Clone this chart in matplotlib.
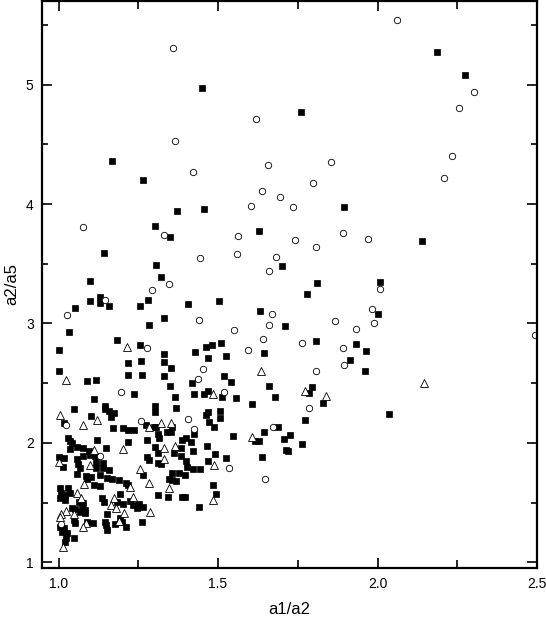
import matplotlib
matplotlib.use("Agg")
import matplotlib.pyplot as plt
from matplotlib.ticker import MultipleLocator

plt.rcParams['font.family'] = ['Liberation Sans', 'DejaVu Sans']

# filled squares
sq_x = [1.451, 1.166, 1.266, 1.372, 1.455, 1.302, 1.35, 1.629, 1.142, 1.306, 1.10, 1.32, 1.129,
        2.187, 2.274, 1.761, 1.896, 2.14, 1.699, 1.81, 1.78, 2.008,
        2.003, 1.711, 1.807, 1.934, 1.964, 1.914, 1.961, 1.794, 1.785, 1.829, 2.037, 1.680, 1.774,
        1.687, 1.707, 1.724, 1.762, 1.713, 1.719,
        1.129, 1.097, 1.159, 1.052, 1.256, 1.28, 1.283, 1.034, 1.183, 1.256, 1.0, 1.217, 1.259,
        1.001, 1.089, 1.116, 1.218, 1.26, 1.238, 1.111, 1.047, 1.146, 1.147, 1.157, 1.175, 1.165,
        1.302, 1.302, 1.018, 1.103, 1.275, 1.298, 1.172, 1.202, 1.219, 1.238,
        1.406, 1.503, 1.331, 1.632, 1.462, 1.48, 1.51, 1.644, 1.429, 1.33, 1.467, 1.526, 1.33,
        1.351, 1.329, 1.518, 1.541, 1.418, 1.349, 1.66, 1.364, 1.424, 1.457, 1.469, 1.512, 1.556,
        1.607, 1.369, 1.467, 1.463, 1.507, 1.505, 1.472, 1.357, 1.306, 1.486,
        1.030, 1.037, 1.043, 1.035, 1.122, 1.217, 1.278, 1.058, 1.078, 1.094, 1.149, 1.301, 1.078,
        1.099, 1.115, 1.0, 1.016, 1.014, 1.058, 1.061, 1.277, 1.284, 1.313, 1.118, 1.139, 1.068,
        1.118, 1.139, 1.157, 1.058, 1.086, 1.102, 1.131, 1.152, 1.167, 1.188, 1.266, 1.212, 1.218,
        1.11, 1.129, 1.089, 1.313, 1.005, 1.031, 1.008, 1.021, 1.037, 1.003, 1.021, 1.063, 1.076,
        1.136, 1.141, 1.193, 1.183, 1.201, 1.223, 1.233, 1.253, 1.266, 1.246, 1.042, 1.052, 1.073,
        1.068, 1.083, 1.084, 1.152, 1.191, 1.199, 1.261, 1.047, 1.05, 1.089, 1.108, 1.146, 1.149,
        1.178, 1.212, 1.152, 1.005, 1.016, 1.011, 1.026, 1.024, 1.047, 1.021,
        1.425, 1.547, 1.617, 1.627, 1.645, 1.341, 1.353, 1.313, 1.316, 1.387, 1.401, 1.414, 1.385,
        1.42, 1.465, 1.313, 1.362, 1.491, 1.525, 1.638, 1.385, 1.322, 1.399, 1.47, 1.404, 1.423,
        1.442, 1.355, 1.376, 1.397, 1.347, 1.357, 1.368, 1.485, 1.342, 1.387, 1.395, 1.494, 1.441]
sq_y = [4.97, 4.36, 4.20, 3.94, 3.96, 3.82, 3.72, 3.775, 3.59, 3.49, 3.356, 3.39, 3.22,
        5.27, 5.08, 4.77, 3.976, 3.69, 3.48, 3.34, 3.25, 3.35,
        3.08, 2.98, 2.856, 2.83, 2.77, 2.694, 2.60, 2.468, 2.415, 2.33, 2.242, 2.387, 2.189,
        2.136, 2.035, 2.066, 1.993, 1.94, 1.93,
        3.174, 3.19, 3.15, 3.13, 3.15, 3.197, 2.987, 2.93, 2.864, 2.82, 2.776, 2.67, 2.686,
        2.60, 2.516, 2.524, 2.566, 2.566, 2.407, 2.37, 2.28, 2.31, 2.28, 2.27, 2.248, 2.214,
        2.31, 2.26, 2.17, 2.228, 2.152, 2.136, 2.125, 2.125, 2.11, 2.11,
        3.163, 3.19, 3.046, 3.105, 2.80, 2.822, 2.837, 2.755, 2.759, 2.742, 2.714, 2.73, 2.675,
        2.627, 2.56, 2.563, 2.513, 2.50, 2.48, 2.48, 2.387, 2.407, 2.407, 2.437, 2.384, 2.373,
        2.326, 2.29, 2.256, 2.234, 2.267, 2.209, 2.175, 2.13, 2.136, 2.13,
        2.04, 2.016, 1.997, 1.949, 2.024, 2.01, 2.022, 1.963, 1.955, 1.932, 1.955, 1.963, 1.893,
        1.898, 1.89, 1.884, 1.871, 1.80, 1.863, 1.823, 1.884, 1.859, 1.829, 1.843, 1.834, 1.787,
        1.792, 1.787, 1.773, 1.737, 1.725, 1.717, 1.731, 1.704, 1.695, 1.689, 1.731, 1.662, 1.647,
        1.647, 1.642, 1.698, 1.564, 1.62, 1.62, 1.578, 1.564, 1.578, 1.536, 1.522, 1.508, 1.494,
        1.536, 1.508, 1.57, 1.508, 1.488, 1.513, 1.48, 1.488, 1.466, 1.457, 1.457, 1.444, 1.452,
        1.419, 1.41, 1.438, 1.402, 1.374, 1.34, 1.335, 1.354, 1.327, 1.335, 1.327, 1.34, 1.312,
        1.318, 1.298, 1.27, 1.298, 1.285, 1.256, 1.243, 1.20, 1.206, 1.168,
        2.072, 2.06, 2.018, 2.018, 2.094, 2.094, 2.089, 2.072, 2.038, 2.024, 2.038, 2.005, 1.955,
        1.935, 1.977, 1.918, 1.918, 1.905, 1.876, 1.884, 1.888, 1.821, 1.848, 1.851, 1.80, 1.779,
        1.781, 1.75, 1.75, 1.731, 1.698, 1.69, 1.681, 1.647, 1.55, 1.545, 1.55, 1.57, 1.463]

# open circles
ci_x = [1.359, 1.620, 1.364, 1.657, 1.42, 1.638, 1.603, 1.076, 1.332, 1.563, 1.442, 1.558, 1.661,
        1.346, 1.294, 1.145,
        2.061, 2.304, 2.256, 2.235, 1.854, 2.208, 1.798, 1.694, 1.736, 1.891, 1.969, 1.74, 1.807,
        1.681, 2.009,
        1.983, 1.868, 1.989, 1.933, 1.764, 1.891, 1.895, 1.808, 2.493, 1.785,
        1.025, 1.276, 1.197, 1.022, 1.258,
        1.439, 1.669, 1.661, 1.55, 1.642, 1.594, 1.454, 1.436, 1.52, 1.406, 1.424, 1.671,
        1.131, 1.008, 1.535, 1.646]
ci_y = [5.31, 4.715, 4.53, 4.33, 4.27, 4.107, 3.987, 3.806, 3.744, 3.735, 3.55, 3.585, 3.44,
        3.33, 3.28, 3.20,
        5.54, 4.94, 4.80, 4.40, 4.35, 4.22, 4.18, 4.06, 3.976, 3.755, 3.71, 3.70, 3.64,
        3.56, 3.29,
        3.12, 3.02, 3.007, 2.95, 2.84, 2.795, 2.655, 2.605, 2.906, 2.295,
        3.07, 2.797, 2.43, 2.15, 2.183,
        3.027, 3.08, 2.99, 2.948, 2.87, 2.778, 2.619, 2.538, 2.43, 2.198, 2.114, 2.13,
        1.893, 1.318, 1.792, 1.698]

# open triangles
tr_x = [2.145, 1.774, 1.84,
        1.216, 1.022, 1.004, 1.078, 1.122, 1.282,
        1.634, 1.483, 1.322, 1.353,
        1.11, 1.201, 1.002, 1.099, 1.256, 1.225, 1.282, 1.081, 1.058, 1.07, 1.175, 1.164, 1.181,
        1.233, 1.022, 1.008, 1.003, 1.047, 1.204, 1.287, 1.087, 1.076, 1.014, 1.19,
        1.606, 1.331, 1.366, 1.332, 1.486, 1.345, 1.483]
tr_y = [2.504, 2.437, 2.39,
        2.806, 2.53, 2.234, 2.147, 2.19, 2.136,
        2.60, 2.412, 2.17, 2.17,
        1.938, 1.949, 1.843, 1.815, 1.779, 1.633, 1.662, 1.653, 1.578, 1.541, 1.541, 1.48, 1.452,
        1.55, 1.43, 1.402, 1.382, 1.402, 1.41, 1.419, 1.327, 1.298, 1.131, 1.35,
        2.052, 1.96, 1.977, 1.863, 1.815, 1.625, 1.525]

fig = plt.figure(figsize=(5.46, 6.17), dpi=100)
ax = fig.add_axes([42 / 546, 1 - 567.7 / 617, 495 / 546, 566.7 / 617])

ax.plot(sq_x, sq_y, 's', ms=4.2, mfc='black', mec='black', mew=0.5, ls='none')
ax.plot(ci_x, ci_y, 'o', ms=4.6, mfc='white', mec='black', mew=0.6, ls='none')
ax.plot(tr_x, tr_y, '^', ms=5.2, mfc='white', mec='black', mew=0.6, ls='none')

ax.set_xlim(0.948, 2.5)
ax.set_ylim(0.955, 5.70)
ax.xaxis.set_major_locator(MultipleLocator(0.5))
ax.xaxis.set_minor_locator(MultipleLocator(0.25))
ax.yaxis.set_major_locator(MultipleLocator(1))
ax.yaxis.set_minor_locator(MultipleLocator(0.5))
ax.xaxis.set_major_formatter(matplotlib.ticker.FormatStrFormatter('%.1f'))

for s in ax.spines.values():
    s.set_linewidth(1.6)
ax.tick_params(which='both', direction='in', top=True, right=True, width=1.2, labelsize=10)
ax.tick_params(which='major', length=7)
ax.tick_params(axis='x', which='minor', length=6)
ax.tick_params(axis='y', which='minor', length=4.5)
ax.tick_params(axis='x', which='major', pad=6.5)
ax.tick_params(axis='y', which='major', pad=6)

ax.set_xlabel('a1/a2', fontsize=12, labelpad=8)
ax.set_ylabel('a2/a5', fontsize=12, labelpad=5)

fig.savefig('out.png', dpi=100)
